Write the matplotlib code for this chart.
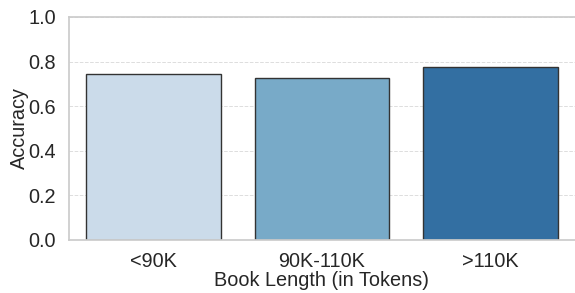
import numpy as np
import matplotlib
matplotlib.use("Agg")
import matplotlib.pyplot as plt
import seaborn as sns

categories = ["<90K", "90K-110K", ">110K"]
accuracy = [0.744, 0.726, 0.776]

sns.set_theme(style="whitegrid")
plt.rcParams['font.family'] = ['Liberation Sans', 'DejaVu Sans']

fig = plt.figure(figsize=(5.75, 2.93), dpi=100)
ax = fig.add_axes([0.12, 0.181, 0.88, 0.761])

colors = sns.color_palette("Blues", 3)
sns.barplot(x=categories, y=accuracy, hue=categories, palette=colors, legend=False,
            edgecolor=".2", linewidth=1, saturation=0.75, ax=ax)

ax.set_ylim(0, 1.0)
ax.set_xlim(-0.5, 2.5)
ax.set_yticks(np.arange(0, 1.01, 0.2))
ax.set_yticklabels([f"{v:.1f}" for v in np.arange(0, 1.01, 0.2)])
ax.grid(axis="y", linestyle="--", linewidth=0.7, color="#dddddd")
ax.grid(axis="x", visible=False)
ax.spines["right"].set_visible(False)
ax.tick_params(axis="y", labelsize=14.3, pad=3.5)
ax.tick_params(axis="x", labelsize=14.3, pad=2.5)
ax.set_xlabel("Book Length (in Tokens)", fontsize=14.3)
ax.set_ylabel("Accuracy", fontsize=14.3)
ax.xaxis.set_label_coords(0.5, -0.14)
ax.yaxis.set_label_coords(-0.08, 0.5)

fig.savefig("out.png", dpi=100)
